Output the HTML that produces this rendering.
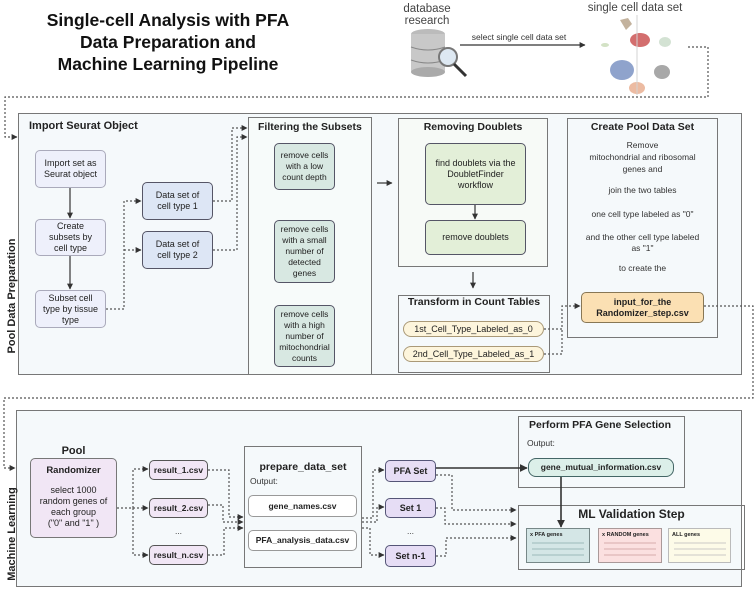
<!DOCTYPE html>
<html><head><meta charset="utf-8"><style>
*{margin:0;padding:0;box-sizing:border-box}
body{width:756px;height:590px;background:#fff;position:relative;overflow:hidden;font-family:"Liberation Sans",sans-serif;color:#222}
.a{position:absolute}
.b{position:absolute;display:flex;align-items:center;justify-content:center;text-align:center;font-size:9px;line-height:11px;border-radius:5px;white-space:nowrap}
.t{position:absolute;font-weight:bold;font-size:11px;white-space:nowrap}
.c{position:absolute;font-size:8.5px;text-align:center;white-space:nowrap;color:#333}
svg{position:absolute;left:0;top:0}
</style></head><body>
<div class="a" style="left:20px;top:9px;width:296px;text-align:center;font-weight:bold;font-size:17.5px;line-height:22px;color:#111">Single-cell Analysis with PFA<br>Data Preparation and<br>Machine Learning Pipeline</div>
<div class="c" style="left:395px;top:3px;width:64px;font-size:11.5px;line-height:12px;color:#444">database<br>research</div>
<div class="c" style="left:580px;top:2px;width:110px;font-size:11.5px;color:#444">single cell data set</div>
<div class="c" style="left:460px;top:32px;width:118px;font-size:8.5px">select single cell data set</div>

<!-- panels -->
<div class="a" style="left:18px;top:113px;width:724px;height:262px;background:#f5f9fb;border:1.5px solid #777"></div>
<div class="a" style="left:16px;top:410px;width:726px;height:177px;background:#f5f9fb;border:1.5px solid #777"></div>
<div class="a" style="left:248px;top:117px;width:124px;height:258px;border:1.5px solid #777;background:#f7fbfa"></div>
<div class="a" style="left:398px;top:118px;width:150px;height:149px;border:1.5px solid #777;background:#f7faf7"></div>
<div class="a" style="left:398px;top:295px;width:152px;height:78px;border:1.5px solid #777"></div>
<div class="a" style="left:567px;top:118px;width:151px;height:220px;border:1.5px solid #777"></div>
<div class="a" style="left:244px;top:446px;width:118px;height:122px;border:1.5px solid #777"></div>
<div class="a" style="left:518px;top:416px;width:167px;height:72px;border:1.5px solid #777"></div>
<div class="a" style="left:518px;top:505px;width:227px;height:65px;border:1.5px solid #777"></div>

<div class="t" style="left:29px;top:120px;font-size:11px">Import Seurat Object</div>
<div class="t" style="left:258px;top:121px;font-size:10.5px">Filtering the Subsets</div>
<div class="t" style="left:398px;top:121px;width:150px;text-align:center;font-size:10.5px">Removing Doublets</div>
<div class="t" style="left:567px;top:121px;width:151px;text-align:center;font-size:10.5px">Create Pool Data Set</div>
<div class="t" style="left:398px;top:296px;width:152px;text-align:center;font-size:10.5px">Transform in Count Tables</div>
<div class="t" style="left:244px;top:461px;width:118px;text-align:center;font-size:10.5px">prepare_data_set</div>
<div class="t" style="left:529px;top:419px;font-size:10.5px">Perform PFA Gene Selection</div>
<div class="t" style="left:518px;top:507px;width:227px;text-align:center;font-size:12px">ML Validation Step</div>
<div class="t" style="left:30px;top:445px;width:87px;text-align:center;font-size:11px">Pool</div>
<div class="c" style="left:250px;top:476px">Output:</div>
<div class="c" style="left:527px;top:438px">Output:</div>

<div class="c" style="left:567px;top:139px;width:151px;line-height:12px;white-space:normal">Remove<br>mitochondrial and ribosomal<br>genes and</div>
<div class="c" style="left:567px;top:185px;width:151px">join the two tables</div>
<div class="c" style="left:567px;top:209px;width:151px">one cell type labeled as "0"</div>
<div class="c" style="left:567px;top:232px;width:151px;line-height:11px">and the other cell type labeled<br>as "1"</div>
<div class="c" style="left:567px;top:263px;width:151px">to create the</div>

<!-- boxes -->
<div class="b" style="left:35px;top:150px;width:71px;height:38px;background:#eef0fb;border:1px solid #aab">Import set as<br>Seurat object</div>
<div class="b" style="left:35px;top:219px;width:71px;height:37px;background:#eef0fb;border:1px solid #aab">Create<br>subsets by<br>cell type</div>
<div class="b" style="left:35px;top:290px;width:71px;height:38px;background:#eef0fb;border:1px solid #aab">Subset cell<br>type by tissue<br>type</div>
<div class="b" style="left:142px;top:182px;width:71px;height:38px;background:#dde6f5;border:1px solid #556">Data set of<br>cell type 1</div>
<div class="b" style="left:142px;top:231px;width:71px;height:38px;background:#dde6f5;border:1px solid #556">Data set of<br>cell type 2</div>
<div class="b" style="left:274px;top:143px;width:61px;height:47px;background:#d8e8e2;border:1px solid #556;font-size:8.5px">remove cells<br>with a low<br>count depth</div>
<div class="b" style="left:274px;top:220px;width:61px;height:63px;background:#d8e8e2;border:1px solid #556;font-size:8.5px">remove cells<br>with a small<br>number of<br>detected<br>genes</div>
<div class="b" style="left:274px;top:305px;width:61px;height:62px;background:#d8e8e2;border:1px solid #556;font-size:8.5px">remove cells<br>with a high<br>number of<br>mitochondrial<br>counts</div>
<div class="b" style="left:425px;top:143px;width:101px;height:62px;background:#e3efd8;border:1px solid #556">find doublets via the<br>DoubletFinder<br>workflow</div>
<div class="b" style="left:425px;top:220px;width:101px;height:35px;background:#e3efd8;border:1px solid #556">remove doublets</div>
<div class="b" style="left:403px;top:321px;width:141px;height:16px;background:#fdf5dc;border:1px solid #a97;border-radius:8px">1st_Cell_Type_Labeled_as_0</div>
<div class="b" style="left:403px;top:346px;width:141px;height:16px;background:#fdf5dc;border:1px solid #a97;border-radius:8px">2nd_Cell_Type_Labeled_as_1</div>
<div class="b" style="left:581px;top:292px;width:123px;height:31px;background:#fbe0b3;border:1px solid #875;font-weight:bold">input_for_the<br>Randomizer_step.csv</div>

<div class="b" style="left:30px;top:458px;width:87px;height:80px;background:#f1e6f5;border:1px solid #777;flex-direction:column;justify-content:flex-start;padding-top:6px"><b style="font-size:9.5px">Randomizer</b><div style="margin-top:9px;font-size:9px">select 1000<br>random genes of<br>each group<br>("0" and "1" )</div></div>
<div class="b" style="left:149px;top:460px;width:59px;height:20px;background:#f1e6f5;border:1.5px solid #555;font-weight:bold;font-size:8.5px">result_1.csv</div>
<div class="b" style="left:149px;top:498px;width:59px;height:20px;background:#f1e6f5;border:1.5px solid #555;font-weight:bold;font-size:8.5px">result_2.csv</div>
<div class="c" style="left:149px;top:526px;width:59px">...</div>
<div class="b" style="left:149px;top:545px;width:59px;height:20px;background:#f1e6f5;border:1.5px solid #555;font-weight:bold;font-size:8.5px">result_n.csv</div>
<div class="b" style="left:248px;top:495px;width:109px;height:22px;background:#fff;border:1px solid #999;font-weight:bold;font-size:8.5px">gene_names.csv</div>
<div class="b" style="left:248px;top:530px;width:109px;height:21px;background:#fff;border:1px solid #999;font-weight:bold;font-size:8.5px">PFA_analysis_data.csv</div>
<div class="b" style="left:385px;top:460px;width:51px;height:22px;background:#e6ddf5;border:1.5px solid #557;font-weight:bold">PFA Set</div>
<div class="b" style="left:385px;top:498px;width:51px;height:20px;background:#e6ddf5;border:1.5px solid #557;font-weight:bold">Set 1</div>
<div class="c" style="left:385px;top:526px;width:51px">...</div>
<div class="b" style="left:385px;top:545px;width:51px;height:22px;background:#e6ddf5;border:1.5px solid #557;font-weight:bold">Set n-1</div>
<div class="b" style="left:528px;top:458px;width:146px;height:19px;background:#dcefe9;border:1px solid #466;border-radius:8px;font-weight:bold;font-size:8.5px">gene_mutual_information.csv</div>
<div class="a" style="left:526px;top:528px;width:64px;height:35px;background:#d4e6e6;border:1px solid #788;font-size:5.5px;font-weight:bold;padding:3px">x PFA genes</div>
<div class="a" style="left:598px;top:528px;width:64px;height:35px;background:#fbe0e0;border:1px solid #a99;font-size:5.5px;font-weight:bold;padding:3px">x RANDOM genes</div>
<div class="a" style="left:668px;top:528px;width:63px;height:35px;background:#fdfbe8;border:1px solid #bbb;font-size:5.5px;font-weight:bold;padding:3px">ALL genes</div>

<div class="a" style="left:-76px;top:290px;width:176px;transform:rotate(-90deg);font-weight:bold;font-size:11px;color:#222;text-align:center">Pool Data Preparation</div>
<div class="a" style="left:-47px;top:528px;width:118px;transform:rotate(-90deg);font-weight:bold;font-size:11px;color:#222;text-align:center">Machine Learning</div>

<svg width="756" height="590">
<defs><marker id="m" markerWidth="5" markerHeight="5" refX="4.5" refY="2.5" orient="auto"><path d="M0,0L5,2.5L0,5z" fill="#333"/></marker></defs>
<g stroke="#555" stroke-width="1.2" fill="none" stroke-dasharray="2,2">
<path d="M688,47H708V97H5V137H17" marker-end="url(#m)"/>
<path d="M704,306H753V398H4V468H15" marker-end="url(#m)"/>
<path d="M106,309H124V201H141" marker-end="url(#m)"/>
<path d="M124,250H141" marker-end="url(#m)"/>
<path d="M213,201H232V128H247" marker-end="url(#m)"/>
<path d="M213,250H237V137H247" marker-end="url(#m)"/>
<path d="M544,329H562V306H580" marker-end="url(#m)"/>
<path d="M544,354H562V329"/>
<path d="M117,508H148" marker-end="url(#m)"/>
<path d="M133,508V469H148" marker-end="url(#m)"/>
<path d="M133,508V555H148" marker-end="url(#m)"/>
<path d="M208,470H229V517H243" marker-end="url(#m)"/>
<path d="M208,505H223V522H243" marker-end="url(#m)"/>
<path d="M208,555H224V528H243" marker-end="url(#m)"/>
<path d="M362,518H373V470H384" marker-end="url(#m)"/>
<path d="M362,522H377V507H384" marker-end="url(#m)"/>
<path d="M362,528H370V555H384" marker-end="url(#m)"/>
<path d="M436,475H452V510H516" marker-end="url(#m)"/>
<path d="M436,508H445V524H516" marker-end="url(#m)"/>
<path d="M436,556H446V538H516" marker-end="url(#m)"/>
</g>
<g stroke="#333" stroke-width="1.2" fill="none">
<path d="M460,45H585" marker-end="url(#m)"/>
<path d="M377,183H392" marker-end="url(#m)"/>
<path d="M70,188V218" marker-end="url(#m)"/>
<path d="M70,256V289" marker-end="url(#m)"/>
<path d="M475,205V219" marker-end="url(#m)"/>
<path d="M473,272V288" marker-end="url(#m)"/>
<path d="M436,468H527" stroke-width="1.6" marker-end="url(#m)"/>
<path d="M561,477V527" stroke-width="1.6" marker-end="url(#m)"/>
</g>
<g>
<ellipse cx="428" cy="34" rx="17" ry="5" fill="#bbb"/>
<rect x="411" y="34" width="34" height="38" fill="#c8c8c8"/>
<ellipse cx="428" cy="72" rx="17" ry="5" fill="#aaa"/>
<path d="M411,47Q428,53 445,47M411,60Q428,66 445,60" stroke="#888" fill="none"/>
<circle cx="448" cy="57" r="9" fill="#dde8f2" stroke="#777" stroke-width="2"/>
<path d="M454,64L466,76" stroke="#333" stroke-width="3"/>
</g>
<g opacity="0.85">
<path d="M620,20l8,-2 4,6 -6,6z" fill="#b9a58c"/>
<ellipse cx="640" cy="40" rx="10" ry="7" fill="#c55"/>
<ellipse cx="665" cy="42" rx="6" ry="5" fill="#cdc"/>
<ellipse cx="622" cy="70" rx="12" ry="10" fill="#7c93c4"/>
<ellipse cx="662" cy="72" rx="8" ry="7" fill="#999"/>
<ellipse cx="637" cy="88" rx="8" ry="6" fill="#e9b092"/>
<ellipse cx="605" cy="45" rx="4" ry="2" fill="#cdb"/>
<path d="M637,15V95" stroke="#ccc"/>
</g>
<g stroke="#8aa" stroke-width="0.8">
<path d="M532,543h52M532,549h52M532,555h52"/>
<path d="M604,543h52M604,549h52M604,555h52" stroke="#c99"/>
<path d="M674,543h52M674,549h52M674,555h52" stroke="#bbb"/>
</g>
</svg>
</body></html>
